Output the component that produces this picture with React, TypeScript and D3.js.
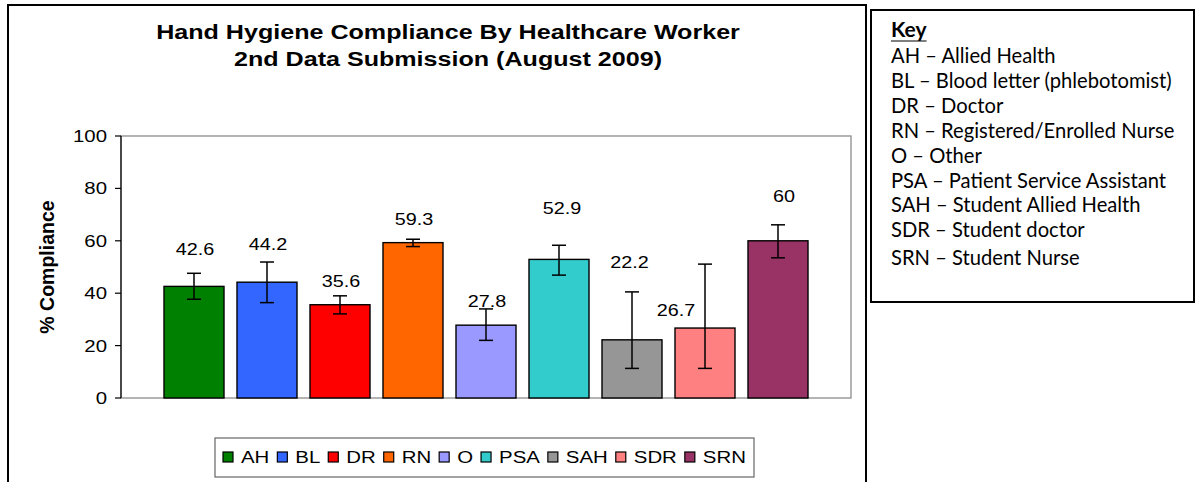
import React, { useEffect, useRef } from 'react';
import * as d3 from 'd3';

// worker groups and compliance (%)
const categories = ['AH', 'BL', 'DR', 'RN', 'O', 'PSA', 'SAH', 'SDR', 'SRN'];
const compliance = [42.6, 44.2, 35.6, 59.3, 27.8, 52.9, 22.2, 26.7, 60];
// confidence interval ends
const ciLow = [37.7, 36.4, 32.1, 57.8, 22.0, 46.9, 11.3, 11.3, 53.5];
const ciHigh = [47.6, 51.9, 39.0, 60.6, 34.0, 58.3, 40.5, 51.1, 66.1];
// where the value labels sit (in % units) and their sideways nudge
const labelAt = [54.6, 56.5, 42.5, 66.0, 34.8, 70.2, 49.7, 31.3, 74.9];
const labelNudge = [1, 1, 1, 1, 1, 3, -2.5, -29, 6];
const barColors = ['#008000', '#3366ff', '#ff0000', '#ff6600', '#9999ff', '#33cccc', '#969696', '#ff8080', '#993366'];
const yTicks = [0, 20, 40, 60, 80, 100];

const keyTitle = 'Key';
const keyLines = [
  'AH \u2013 Allied Health',
  'BL \u2013 Blood letter (phlebotomist)',
  'DR \u2013 Doctor',
  'RN \u2013 Registered/Enrolled Nurse',
  'O \u2013 Other',
  'PSA \u2013 Patient Service Assistant',
  'SAH \u2013 Student Allied Health',
  'SDR \u2013 Student doctor',
  'SRN \u2013 Student Nurse',
];
const keyBaselines = [63, 88, 113, 138, 163, 188, 212, 237, 265];

const W = 1198;
const H = 482;
const ARIAL = '"Liberation Sans", Arial, sans-serif';
const SX = 1.2; // the source image is stretched sideways

function stext(g: any, x: number, y: number, str: string, sx: number, anchor = 'start') {
  return g.append('text')
    .attr('transform', `translate(${x},${y}) scale(${sx},1)`)
    .attr('text-anchor', anchor)
    .text(str);
}

export default function App() {
  const ref = useRef<SVGSVGElement>(null);

  useEffect(() => {
    const svg = d3.select(ref.current);
    svg.selectAll('*').remove();

    const plot = { left: 121, right: 851, top: 136, bottom: 398 };

    const x = d3.scaleBand()
      .domain(categories)
      .range([plot.left, plot.right])
      .paddingInner(0.178)
      .paddingOuter(0.589);

    const y = d3.scaleLinear()
      .domain([0, 100])
      .range([plot.bottom, plot.top]);

    // outer chart frame
    svg.append('rect')
      .attr('x', 8).attr('y', 5)
      .attr('width', 858).attr('height', H)
      .attr('fill', '#fff').attr('stroke', '#000').attr('stroke-width', 2);

    // title
    const title = svg.append('g')
      .attr('font-family', ARIAL).attr('font-weight', 'bold')
      .attr('font-size', 20.5).attr('fill', '#000');
    const t1 = stext(title, 448, 39, 'Hand Hygiene Compliance By Healthcare Worker', 1, 'middle');
    const t2 = stext(title, 448, 66, '2nd Data Submission (August 2009)', 1, 'middle');
    const tw = (t1.node() as SVGTextElement).getComputedTextLength();
    const tsx = 584 / tw;
    t1.attr('transform', `translate(448,39) scale(${tsx},1)`);
    t2.attr('transform', `translate(448,66) scale(${tsx},1)`);

    // plot area
    svg.append('rect')
      .attr('x', plot.left).attr('y', plot.top)
      .attr('width', plot.right - plot.left).attr('height', plot.bottom - plot.top)
      .attr('fill', '#fff').attr('stroke', '#8c8c8c').attr('stroke-width', 1.3);

    // y axis
    const yAxis = svg.append('g');
    yAxis.append('line')
      .attr('x1', plot.left).attr('x2', plot.left)
      .attr('y1', y(0)).attr('y2', y(100))
      .attr('stroke', '#000').attr('stroke-width', 1.2);
    yAxis.selectAll('line.tick')
      .data(yTicks)
      .join('line')
      .attr('class', 'tick')
      .attr('x1', plot.left - 6).attr('x2', plot.left)
      .attr('y1', d => y(d)).attr('y2', d => y(d))
      .attr('stroke', '#000').attr('stroke-width', 1.2);
    const tickLabels = yAxis.append('g')
      .attr('font-family', ARIAL).attr('font-size', 17).attr('fill', '#000');
    yTicks.forEach(t => stext(tickLabels, 107, y(t) + 6, String(t), SX, 'end'));

    svg.append('text')
      .attr('transform', `translate(53.5,${(plot.top + plot.bottom) / 2}) rotate(-90)`)
      .attr('text-anchor', 'middle')
      .attr('font-family', ARIAL).attr('font-weight', 'bold').attr('font-size', 19.5)
      .text('% Compliance');

    // bars
    svg.append('g')
      .selectAll('rect')
      .data(categories)
      .join('rect')
      .attr('x', d => x(d)!)
      .attr('y', (d, i) => y(compliance[i]))
      .attr('width', x.bandwidth())
      .attr('height', (d, i) => y(0) - y(compliance[i]))
      .attr('fill', (d, i) => barColors[i])
      .attr('stroke', '#000').attr('stroke-width', 1.4);

    // error bars
    const cap = 7;
    const err = svg.append('g').attr('stroke', '#000').attr('stroke-width', 1.5);
    categories.forEach((c, i) => {
      const cx = x(c)! + x.bandwidth() / 2;
      err.append('line').attr('x1', cx).attr('x2', cx).attr('y1', y(ciLow[i])).attr('y2', y(ciHigh[i]));
      err.append('line').attr('x1', cx - cap).attr('x2', cx + cap).attr('y1', y(ciLow[i])).attr('y2', y(ciLow[i]));
      err.append('line').attr('x1', cx - cap).attr('x2', cx + cap).attr('y1', y(ciHigh[i])).attr('y2', y(ciHigh[i]));
    });

    // value labels
    const vl = svg.append('g')
      .attr('font-family', ARIAL).attr('font-size', 16.5).attr('fill', '#000');
    categories.forEach((c, i) => {
      const cx = x(c)! + x.bandwidth() / 2 + labelNudge[i];
      stext(vl, cx, y(labelAt[i]), String(compliance[i]), SX, 'middle');
    });

    // legend
    const lg = svg.append('g');
    lg.append('rect')
      .attr('x', 215).attr('y', 438).attr('width', 539).attr('height', 39)
      .attr('fill', '#fff').attr('stroke', '#666').attr('stroke-width', 1.2);
    const items = lg.append('g').attr('font-family', ARIAL).attr('font-size', 17).attr('fill', '#000');
    let lx = 223;
    categories.forEach((c, i) => {
      items.append('rect')
        .attr('x', lx).attr('y', 452).attr('width', 10).attr('height', 10)
        .attr('fill', barColors[i]).attr('stroke', '#000').attr('stroke-width', 1.2);
      const t = stext(items, lx + 18, 463, c, SX);
      const w = (t.node() as SVGTextElement).getComputedTextLength() * SX;
      lx += 18 + w + 8;
    });

    // key box
    svg.append('rect')
      .attr('x', 871).attr('y', 10).attr('width', 323).attr('height', 292)
      .attr('fill', '#fff').attr('stroke', '#000').attr('stroke-width', 2);
    const key = svg.append('g')
      .attr('font-family', 'Lato, "Open Sans", sans-serif').attr('font-size', 21).attr('fill', '#000');
    const kt = stext(key, 891, 37, keyTitle, 1).attr('font-weight', 'bold');
    const ktw = (kt.node() as SVGTextElement).getComputedTextLength();
    key.append('line')
      .attr('x1', 891).attr('x2', 891 + ktw)
      .attr('y1', 41).attr('y2', 41)
      .attr('stroke', '#000').attr('stroke-width', 1.2);
    const lines = keyLines.map((s, i) => stext(key, 891, keyBaselines[i], s, 1));
    const lw = (lines[1].node() as SVGTextElement).getComputedTextLength();
    const ksx = 281 / lw;
    lines.forEach((l, i) => l.attr('transform', `translate(891,${keyBaselines[i]}) scale(${ksx},1)`));
  }, []);

  return (
    <svg ref={ref} width={W} height={H}
      style={{ position: 'absolute', left: 0, top: 0, background: '#fff' }} />
  );
}
